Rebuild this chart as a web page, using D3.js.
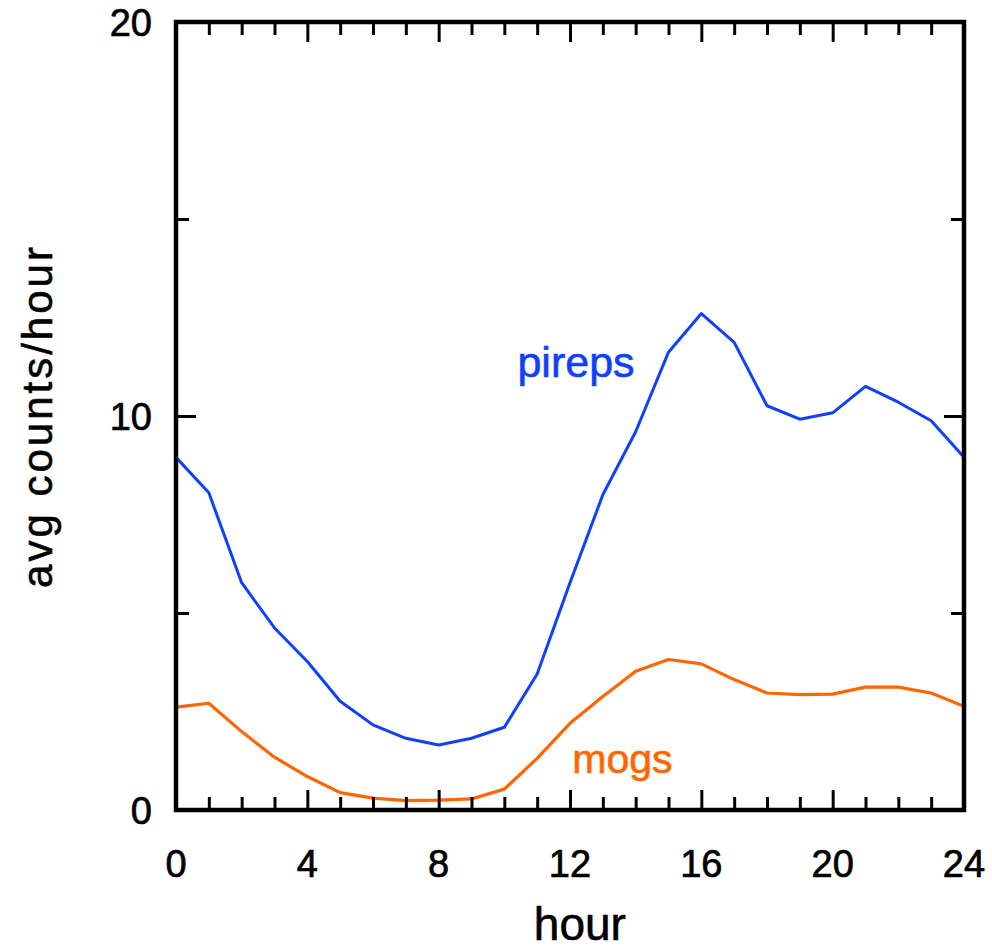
<!DOCTYPE html>
<html>
<head>
<meta charset="utf-8">
<script src="https://cdn.jsdelivr.net/npm/d3@7"></script>
<style>
  html, body { margin: 0; padding: 0; background: #fff; }
  svg { display: block; }
  text { font-family: "Liberation Sans", Arial, Helvetica, sans-serif; }
</style>
</head>
<body>
<svg id="chart" width="992" height="951"></svg>
<script>
// ---- data ----
const hours = d3.range(0, 25);
const pireps = [8.95, 8.05, 5.77, 4.62, 3.77, 2.76, 2.16, 1.82, 1.65, 1.82, 2.10,
                3.45, 5.77, 8.0, 9.6, 11.62, 12.6, 11.87, 10.26, 9.92, 10.08,
                10.75, 10.35, 9.88, 8.95];
const mogs = [2.61, 2.71, 1.99, 1.34, 0.85, 0.44, 0.30, 0.24, 0.25, 0.28, 0.53,
              1.31, 2.2, 2.88, 3.52, 3.82, 3.71, 3.31, 2.97, 2.93, 2.94,
              3.12, 3.12, 2.97, 2.63];
const xMajorTicks = [0, 4, 8, 12, 16, 20, 24];
const xMinorTicks = d3.range(0, 25).filter(d => d % 4 !== 0);
const yMajorTicks = [0, 10, 20];
const yMinorTicks = [5, 15];
const xLabel = "hour";
const yLabel = "avg counts/hour";
const seriesLabels = [
  { name: "pireps", color: "#1040ff" },
  { name: "mogs", color: "#ff6600" }
];

// ---- layout ----
const svg = d3.select("#chart");
const m = { left: 176, top: 22, right: 28, bottom: 141 };
const W = 992 - m.left - m.right;   // 788
const H = 951 - m.top - m.bottom;   // 788
const g = svg.append("g").attr("transform", `translate(${m.left},${m.top})`);

const x = d3.scaleLinear().domain([0, 24]).range([0, W]);
const y = d3.scaleLinear().domain([0, 20]).range([H, 0]);

// ---- lines ----
const line = d3.line().x((d, i) => x(hours[i])).y(d => y(d));
g.append("path").datum(mogs)
  .attr("fill", "none").attr("stroke", seriesLabels[1].color)
  .attr("stroke-width", 3.2).attr("stroke-linejoin", "round")
  .attr("d", line);
g.append("path").datum(pireps)
  .attr("fill", "none").attr("stroke", seriesLabels[0].color)
  .attr("stroke-width", 3).attr("stroke-linejoin", "round")
  .attr("d", line);

// ---- axes with inward ticks ----
function styleAxis(sel) {
  sel.select(".domain").remove();
  sel.selectAll(".tick line").attr("stroke", "#000").attr("stroke-width", 3);
  sel.selectAll(".tick text").remove();
}
// bottom
g.append("g").attr("transform", `translate(0,${H})`)
  .call(d3.axisBottom(x).tickValues(xMajorTicks).tickSize(-20)).call(styleAxis);
g.append("g").attr("transform", `translate(0,${H})`)
  .call(d3.axisBottom(x).tickValues(xMinorTicks).tickSize(-13)).call(styleAxis);
// top
g.append("g")
  .call(d3.axisTop(x).tickValues(xMajorTicks).tickSize(-20)).call(styleAxis);
g.append("g")
  .call(d3.axisTop(x).tickValues(xMinorTicks).tickSize(-13)).call(styleAxis);
// left
g.append("g")
  .call(d3.axisLeft(y).tickValues(yMajorTicks).tickSize(-20)).call(styleAxis);
g.append("g")
  .call(d3.axisLeft(y).tickValues(yMinorTicks).tickSize(-13)).call(styleAxis);
// right
g.append("g").attr("transform", `translate(${W},0)`)
  .call(d3.axisRight(y).tickValues(yMajorTicks).tickSize(-20)).call(styleAxis);
g.append("g").attr("transform", `translate(${W},0)`)
  .call(d3.axisRight(y).tickValues(yMinorTicks).tickSize(-13)).call(styleAxis);

// frame
g.append("rect").attr("x", 0).attr("y", 0).attr("width", W).attr("height", H)
  .attr("fill", "none").attr("stroke", "#000").attr("stroke-width", 4.5);

// tick labels
g.selectAll(".xlab").data(xMajorTicks).enter().append("text")
  .attr("x", d => x(d)).attr("y", H + 67)
  .attr("text-anchor", "middle").attr("font-size", 38).attr("fill", "#000")
  .attr("stroke", "#000").attr("stroke-width", 0.7)
  .text(d => d);
g.selectAll(".ylab").data(yMajorTicks).enter().append("text")
  .attr("x", -24).attr("y", d => y(d) + 14)
  .attr("text-anchor", "end").attr("font-size", 38).attr("fill", "#000")
  .attr("stroke", "#000").attr("stroke-width", 0.7)
  .text(d => d);

// axis titles
svg.append("text")
  .attr("x", m.left + x(12.3)).attr("y", 940)
  .attr("text-anchor", "middle").attr("font-size", 46).attr("fill", "#000")
  .attr("stroke", "#000").attr("stroke-width", 0.6)
  .text(xLabel);
svg.append("text")
  .attr("transform", `translate(52,${m.top + y(10)}) rotate(-90)`)
  .attr("text-anchor", "middle").attr("font-size", 42)
  .attr("letter-spacing", 3).attr("fill", "#000")
  .attr("stroke", "#000").attr("stroke-width", 0.6)
  .text(yLabel);

// series labels
g.append("text").attr("x", x(10.4)).attr("y", y(11.0))
  .attr("font-size", 43).attr("fill", seriesLabels[0].color)
  .attr("stroke", seriesLabels[0].color).attr("stroke-width", 0.6)
  .text(seriesLabels[0].name);
g.append("text").attr("x", x(12.07)).attr("y", y(0.94))
  .attr("font-size", 41).attr("fill", seriesLabels[1].color)
  .attr("stroke", seriesLabels[1].color).attr("stroke-width", 0.6)
  .text(seriesLabels[1].name);
</script>
</body>
</html>
